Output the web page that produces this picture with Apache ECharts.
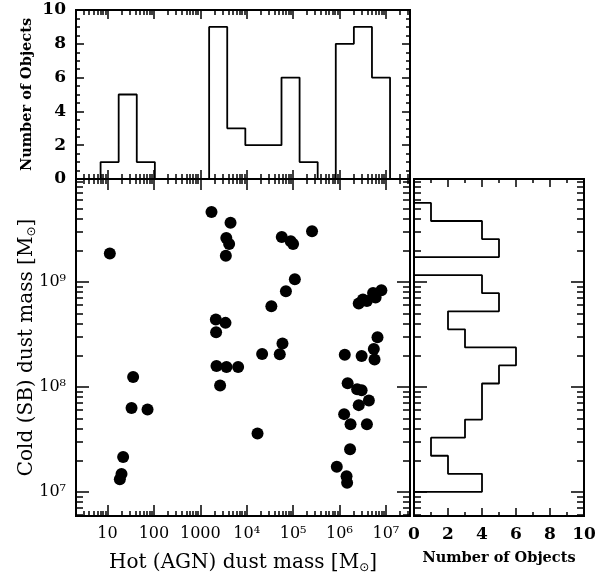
<!DOCTYPE html>
<html>
<head>
<meta charset="utf-8">
<script src="https://cdn.jsdelivr.net/npm/echarts@6/dist/echarts.min.js"></script>
<style>
  html, body { margin: 0; padding: 0; background: #fff; }
  #chart { width: 608px; height: 577px; }
</style>
</head>
<body>
<div id="chart"></div>
<script>
// hot (AGN) and cold (SB) dust masses of each object, in solar masses
const hotMass = [
    11.2, 1740, 4480, 3630, 4180, 3550, 57000, 89000, 100000, 256000,
    109000, 70000, 34000, 2.6e6, 3.2e6, 3.9e6, 5.3e6, 6.0e6, 8.0e6, 2160,
    3490, 2190, 6.6e6, 59000, 51600, 21500, 1.3e6, 3.0e6, 5.5e6, 5.7e6,
    2230, 3670, 6530, 35.6, 2670, 1.5e6, 2.4e6, 3.0e6, 32.9, 72.8,
    1.26e6, 2.6e6, 4.3e6, 1.73e6, 3.9e6, 17100, 21.7, 1.69e6, 8.75e5, 20.0,
    18.4, 1.42e6, 1.46e6
];
const coldMass = [
    1.86e9, 4.64e9, 3.65e9, 2.62e9, 2.29e9, 1.77e9, 2.68e9, 2.44e9, 2.29e9, 3.04e9,
    1.06e9, 8.15e8, 5.87e8, 6.22e8, 6.80e8, 6.59e8, 7.85e8, 7.10e8, 8.34e8, 4.38e8,
    4.07e8, 3.32e8, 2.97e8, 2.59e8, 2.05e8, 2.06e8, 2.02e8, 1.97e8, 2.30e8, 1.82e8,
    1.58e8, 1.55e8, 1.55e8, 1.24e8, 1.03e8, 1.08e8, 9.5e7, 9.3e7, 6.3e7, 6.1e7,
    5.5e7, 6.7e7, 7.4e7, 4.4e7, 4.4e7, 3.6e7, 2.15e7, 2.54e7, 1.73e7, 1.48e7,
    1.32e7, 1.41e7, 1.22e7
];

// top histogram: bin edges in log10(hot mass) and counts
const hotEdges = [0.85, 1.24, 1.63, 2.02, 2.41, 2.80, 3.19, 3.58, 3.97, 4.36, 4.75, 5.14, 5.53, 5.92, 6.31, 6.70, 7.09];
const hotCounts = [1, 5, 1, 0, 0, 0, 9, 3, 2, 2, 6, 1, 0, 8, 9, 6];

// right histogram: bin edges in log10(cold mass) and counts
const coldEdges = [7.0, 7.172, 7.344, 7.516, 7.688, 7.86, 8.032, 8.204, 8.376, 8.548, 8.72, 8.892, 9.064, 9.236, 9.408, 9.58, 9.752];
const coldCounts = [4, 2, 1, 3, 4, 4, 5, 6, 3, 2, 5, 4, 0, 5, 4, 1];

const xMajor = [1, 2, 3, 4, 5, 6, 7];
const xLabels = ['10', '100', '1000', '10⁴', '10⁵', '10⁶', '10⁷'];
const yMajor = [7, 8, 9];
const yLabels = ['10⁷', '10⁸', '10⁹'];

const xMin = 0.32, xMax = 7.52;
const yMin = 6.77, yMax = 9.98;

const serif = 'DejaVu Serif';

// minor ticks of a log axis: 2..9 x 10^n inside [lo, hi]
function minorTicks(lo, hi) {
    const out = [];
    for (let n = Math.floor(lo); n <= Math.ceil(hi); n++) {
        for (let k = 2; k <= 9; k++) {
            const v = n + Math.log10(k);
            if (v > lo && v < hi) out.push(v);
        }
    }
    return out;
}

function logAxis(gridIndex, position, min, max, ticks, len, labels) {
    const ax = {
        type: 'value', gridIndex, position, min, max,
        axisLine: { show: true, onZero: false, lineStyle: { color: '#000', width: 2 } },
        axisTick: { show: true, inside: true, length: len, customValues: ticks, lineStyle: { color: '#000', width: 1.5 } },
        axisLabel: { show: false },
        splitLine: { show: false }
    };
    if (labels) {
        ax.axisLabel = {
            show: true, customValues: ticks,
            formatter: v => labels[ticks.indexOf(Math.round(v))] || '',
            fontFamily: serif, fontSize: 16, color: '#000', margin: 10
        };
    }
    return ax;
}

function countAxis(gridIndex, position, labels, minorSplit, len) {
    return {
        type: 'value', gridIndex, position, min: 0, max: 10, interval: 2,
        axisLine: { show: true, onZero: false, lineStyle: { color: '#000', width: 2 } },
        axisTick: { show: true, inside: true, length: len, lineStyle: { color: '#000', width: 1.5 } },
        minorTick: { show: true, splitNumber: minorSplit, length: len / 2, lineStyle: { color: '#000', width: 1.5 } },
        axisLabel: labels ? { show: true, fontFamily: serif, fontWeight: 'bold', fontSize: 17, color: '#000', margin: 10 } : { show: false },
        splitLine: { show: false }
    };
}

const xMinor = minorTicks(xMin, xMax);
const yMinor = minorTicks(yMin, yMax);

const massName = (txt) => txt + ' [M{sub|⊙}]';
const nameRich = { sub: { fontFamily: 'DejaVu Sans', fontSize: 12, padding: [11, 0, 0, 0], color: '#000' } };

// x axes
const xAxes = [
    logAxis(0, 'bottom', xMin, xMax, xMajor, 9),
    logAxis(0, 'bottom', xMin, xMax, xMinor, 5),
    logAxis(0, 'top', xMin, xMax, xMajor, 9),
    logAxis(0, 'top', xMin, xMax, xMinor, 5),
    Object.assign(logAxis(1, 'bottom', xMin, xMax, xMajor, 11, xLabels), {
        name: massName('Hot (AGN) dust mass'), nameLocation: 'middle', nameGap: 35,
        nameTextStyle: { fontFamily: serif, fontSize: 20, color: '#000', rich: nameRich }
    }),
    logAxis(1, 'bottom', xMin, xMax, xMinor, 5),
    logAxis(1, 'top', xMin, xMax, xMajor, 11),
    logAxis(1, 'top', xMin, xMax, xMinor, 5),
    Object.assign(countAxis(2, 'bottom', true, 2, 8), {
        name: 'Number of Objects', nameLocation: 'middle', nameGap: 35,
        nameTextStyle: { fontFamily: serif, fontWeight: 'bold', fontSize: 14.5, color: '#000' }
    }),
    countAxis(2, 'top', false, 2, 8)
];

// y axes
const yAxes = [
    Object.assign(countAxis(0, 'left', true, 4, 8), {
        name: 'Number of Objects', nameLocation: 'middle', nameGap: 41, nameMoveOverlap: false,
        nameTextStyle: { fontFamily: serif, fontWeight: 'bold', fontSize: 14.5, color: '#000' }
    }),
    countAxis(0, 'right', false, 4, 8),
    Object.assign(logAxis(1, 'left', yMin, yMax, yMajor, 13, yLabels), {
        name: massName('Cold (SB) dust mass'), nameLocation: 'middle', nameGap: 38, nameMoveOverlap: false,
        nameTextStyle: { fontFamily: serif, fontSize: 20, color: '#000', rich: nameRich }
    }),
    logAxis(1, 'left', yMin, yMax, yMinor, 7),
    logAxis(1, 'right', yMin, yMax, yMajor, 13),
    logAxis(1, 'right', yMin, yMax, yMinor, 7),
    logAxis(2, 'left', yMin, yMax, yMajor, 13),
    logAxis(2, 'left', yMin, yMax, yMinor, 7),
    logAxis(2, 'right', yMin, yMax, yMajor, 13),
    logAxis(2, 'right', yMin, yMax, yMinor, 7)
];

// step outlines for the histograms
const topStep = [[hotEdges[0], 0]];
hotCounts.forEach((c, i) => {
    topStep.push([hotEdges[i], c], [hotEdges[i + 1], c]);
});
topStep.push([hotEdges[hotEdges.length - 1], 0]);

const rightStep = [[0, coldEdges[0]]];
coldCounts.forEach((c, i) => {
    rightStep.push([c, coldEdges[i]], [c, coldEdges[i + 1]]);
});
rightStep.push([0, coldEdges[coldEdges.length - 1]]);

const points = hotMass.map((h, i) => [Math.log10(h), Math.log10(coldMass[i])]);

const chart = echarts.init(document.getElementById('chart'));
chart.setOption({
    backgroundColor: '#fff',
    animation: false,
    grid: [
        { left: 76, top: 10, width: 334, height: 169, outerBoundsMode: 'none' },
        { left: 76, top: 179, width: 334, height: 337, outerBoundsMode: 'none' },
        { left: 414, top: 179, width: 170, height: 337, outerBoundsMode: 'none' }
    ],
    xAxis: xAxes,
    yAxis: yAxes,
    series: [
        {
            type: 'line', xAxisIndex: 0, yAxisIndex: 0, data: topStep,
            symbol: 'none', lineStyle: { color: '#000', width: 1.8 }
        },
        {
            type: 'scatter', xAxisIndex: 4, yAxisIndex: 2, data: points,
            symbol: 'circle', symbolSize: 12, itemStyle: { color: '#000', opacity: 1 }
        },
        {
            type: 'line', xAxisIndex: 8, yAxisIndex: 6, data: rightStep,
            symbol: 'none', lineStyle: { color: '#000', width: 1.8 }
        }
    ]
});
</script>
</body>
</html>
